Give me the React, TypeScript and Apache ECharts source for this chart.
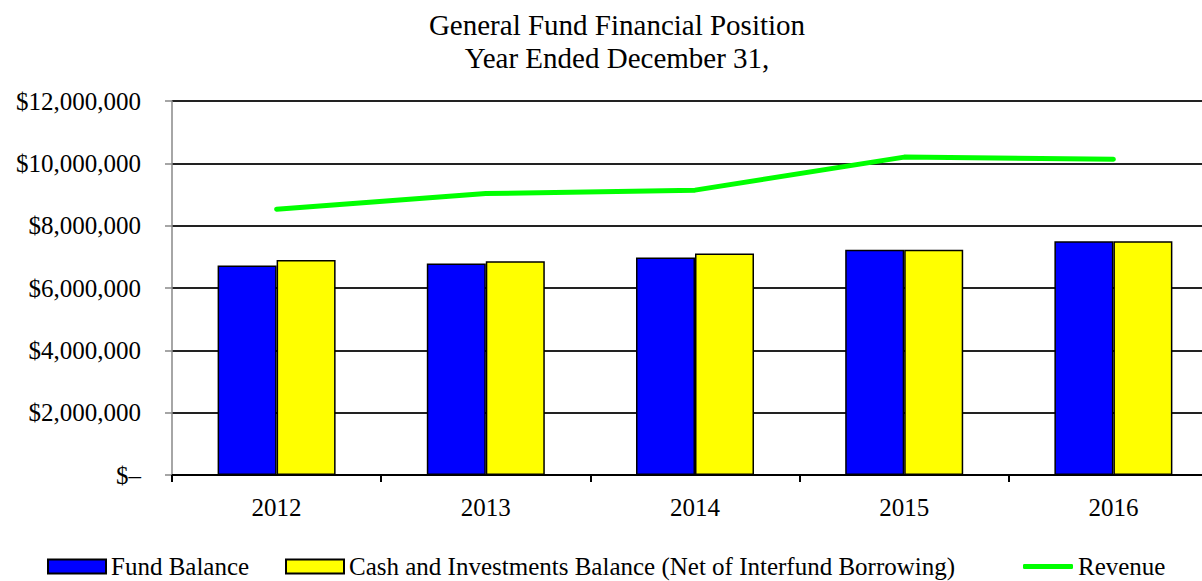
import React, { useEffect, useRef } from "react";
import * as echarts from "echarts";

const categories = ["2012", "2013", "2014", "2015", "2016"];
const fundBalance = [6720000, 6790000, 6980000, 7230000, 7500000];
const cashInvestments = [6900000, 6860000, 7110000, 7230000, 7500000];
const revenue = [8530000, 9030000, 9140000, 10200000, 10130000];
const titleLines = ["General Fund Financial Position", "Year Ended December 31,"];
const seriesNames = [
  "Fund Balance",
  "Cash and Investments Balance (Net of Interfund Borrowing)",
  "Revenue",
];

const FONT = "Liberation Serif";

function fmt(v: number): string {
  if (v === 0) return "$\u2013";
  return "$" + v.toLocaleString("en-US");
}

export default function App() {
  const ref = useRef<HTMLDivElement>(null);
  useEffect(() => {
    if (!ref.current) return;
    const chart = echarts.init(ref.current, undefined, { renderer: "svg" });
    const legendText = { fontFamily: FONT, fontSize: 25, lineHeight: 24, color: "#000" };
    chart.setOption({
      animation: false,
      backgroundColor: "#ffffff",
      textStyle: { fontFamily: FONT, color: "#000" },
      graphic: [
        {
          type: "text",
          x: 617,
          y: 8,
          style: {
            text: titleLines.join("\n"),
            textAlign: "center",
            fontFamily: FONT,
            fontSize: 29,
            lineHeight: 33,
            fill: "#000",
          },
        },
      ],
      legend: [
        {
          left: 47,
          top: 554,
          padding: 0,
          itemWidth: 58,
          itemHeight: 14,
          icon: "rect",
          textStyle: legendText,
          data: [{ name: seriesNames[0] }],
        },
        {
          left: 285,
          top: 554,
          padding: 0,
          itemWidth: 58,
          itemHeight: 14,
          icon: "rect",
          textStyle: legendText,
          data: [{ name: seriesNames[1] }],
        },
        {
          left: 1023,
          top: 554,
          padding: 0,
          itemWidth: 50,
          itemHeight: 5,
          icon: "roundRect",
          textStyle: legendText,
          data: [{ name: seriesNames[2] }],
        },
      ],
      grid: { left: 172, right: 0, top: 101, bottom: 106, containLabel: false },
      xAxis: {
        type: "category",
        data: categories,
        axisLine: { show: true, lineStyle: { color: "#000", width: 2 } },
        axisTick: { show: true, length: 7, lineStyle: { color: "#000", width: 2 } },
        axisLabel: { fontFamily: FONT, fontSize: 25, color: "#000", margin: 20 },
      },
      yAxis: {
        type: "value",
        min: 0,
        max: 12000000,
        interval: 2000000,
        axisLine: { show: true, lineStyle: { color: "#888", width: 1.5 } },
        axisTick: { show: true, length: 7, lineStyle: { color: "#888", width: 1.5 } },
        axisLabel: { fontFamily: FONT, fontSize: 25, color: "#000", margin: 31, formatter: fmt },
        splitLine: { show: true, lineStyle: { color: "#222", width: 2 } },
      },
      series: [
        {
          name: seriesNames[0],
          type: "bar",
          data: fundBalance,
          barWidth: 59,
          barGap: "0%",
          itemStyle: { color: "#0000ff", borderColor: "#000", borderWidth: 1.5 },
        },
        {
          name: seriesNames[1],
          type: "bar",
          data: cashInvestments,
          barWidth: 59,
          barGap: "0%",
          itemStyle: { color: "#ffff00", borderColor: "#000", borderWidth: 1.5 },
        },
        {
          name: seriesNames[2],
          type: "line",
          data: revenue,
          symbol: "none",
          showSymbol: false,
          lineStyle: { color: "#00ff00", width: 5, cap: "round", join: "round" },
          itemStyle: { color: "#00ff00" },
        },
      ],
    });
    return () => chart.dispose();
  }, []);
  return (
    <div
      style={{
        position: "fixed",
        left: 0,
        top: 0,
        width: 1202,
        height: 581,
        overflow: "hidden",
        background: "#fff",
      }}
    >
      <div ref={ref} style={{ width: 1218, height: 581 }} />
    </div>
  );
}
